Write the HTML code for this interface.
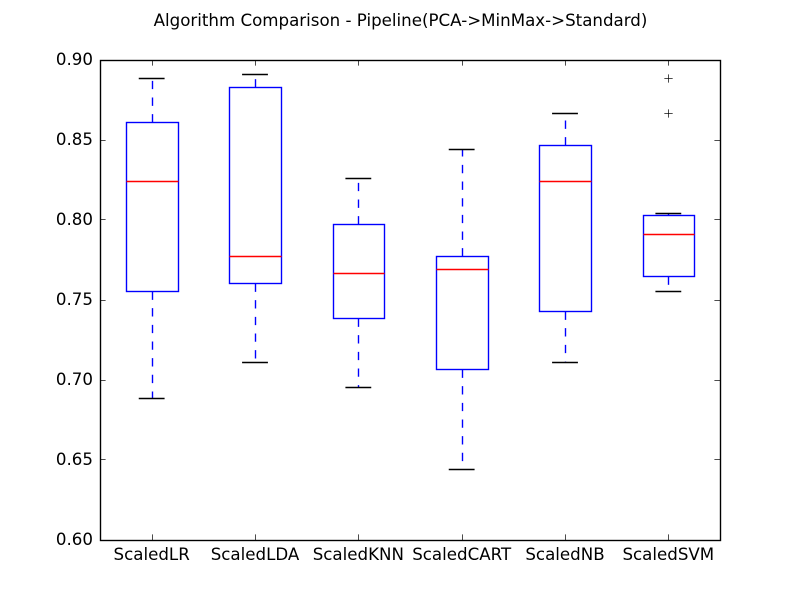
<!DOCTYPE html>
<html>
<head>
<meta charset="utf-8">
<title>Algorithm Comparison</title>
<style>
html,body{margin:0;padding:0;background:#fff}
svg{display:block}
text{font-family:"DejaVu Sans","Liberation Sans",sans-serif;fill:#000}
</style>
</head>
<body>
<svg id="chart" width="800" height="600" viewBox="0 0 800 600" xmlns="http://www.w3.org/2000/svg">
<rect width="800" height="600" fill="#fff"/>
<text x="400.5" y="26" font-size="16.67" text-anchor="middle">Algorithm Comparison - Pipeline(PCA-&gt;MinMax-&gt;Standard)</text>
</svg>
<script>
const categories = ['ScaledLR', 'ScaledLDA', 'ScaledKNN', 'ScaledCART', 'ScaledNB', 'ScaledSVM'];
const whiskerLow = [0.6883, 0.7110, 0.6953, 0.6442, 0.7110, 0.7555];
const q1Values = [0.7554, 0.7604, 0.7385, 0.7065, 0.7429, 0.7648];
const medians = [0.8240, 0.7773, 0.7667, 0.7692, 0.8240, 0.7909];
const q3Values = [0.8610, 0.8831, 0.7974, 0.7773, 0.8468, 0.8026];
const whiskerHigh = [0.8883, 0.8908, 0.8260, 0.8442, 0.8668, 0.8039];
const fliers = [[], [], [], [], [], [0.8883, 0.8668]];
const yTicks = [0.60, 0.65, 0.70, 0.75, 0.80, 0.85, 0.90];

const svg = document.getElementById('chart');
const NS = 'http://www.w3.org/2000/svg';
const L = 100, R = 720, T = 60, B = 540;
const Y_MIN = 0.6, Y_MAX = 0.9;
const LW = 1.39, THIN = 0.7, TICK = 5.6;

function xScale(p) { return L + (R - L) * (p + 0.5) / categories.length; }
function yScale(v) { return B - (v - Y_MIN) / (Y_MAX - Y_MIN) * (B - T); }
function snapX(v) { return Math.round(v) + 0.5; }
function snap(v) { return Math.round(v - 0.5) + 0.5; }

function line(x1, y1, x2, y2, stroke, width, dash) {
  const el = document.createElementNS(NS, 'line');
  el.setAttribute('x1', x1);
  el.setAttribute('y1', y1);
  el.setAttribute('x2', x2);
  el.setAttribute('y2', y2);
  el.setAttribute('stroke', stroke);
  el.setAttribute('stroke-width', width);
  if (dash) el.setAttribute('stroke-dasharray', dash);
  svg.appendChild(el);
  return el;
}
function label(x, y, str, anchor) {
  const el = document.createElementNS(NS, 'text');
  el.setAttribute('x', x);
  el.setAttribute('y', y);
  el.setAttribute('font-size', '16.67');
  el.setAttribute('text-anchor', anchor);
  el.textContent = str;
  svg.appendChild(el);
  return el;
}

categories.forEach(function (name, i) {
  const cx = snapX(xScale(i));
  const hw = (R - L) / categories.length * 0.25;
  const left = snapX(xScale(i) - hw);
  const right = snapX(xScale(i) + hw);
  const capL = xScale(i) - hw / 2;
  const capR = xScale(i) + hw / 2;
  const yQ1 = snap(yScale(q1Values[i]));
  const yQ3 = snap(yScale(q3Values[i]));
  const yMed = snap(yScale(medians[i]));
  const yLow = snap(yScale(whiskerLow[i]));
  const yHigh = snap(yScale(whiskerHigh[i]));

  const lowW = line(cx, yQ1, cx, yLow, '#0000ff', LW, '8.33 8.33');
  
  
  const highW = line(cx, yQ3, cx, yHigh, '#0000ff', LW, '8.33 8.33');
  
  
  const lowC = line(capL, yLow, capR, yLow, '#000', LW);
  
  
  const highC = line(capL, yHigh, capR, yHigh, '#000', LW);
  
  

  const box = document.createElementNS(NS, 'rect');
  box.setAttribute('x', left);
  box.setAttribute('y', yQ3);
  box.setAttribute('width', right - left);
  box.setAttribute('height', yQ1 - yQ3);
  box.setAttribute('fill', 'none');
  box.setAttribute('stroke', '#0000ff');
  box.setAttribute('stroke-width', LW);
  
  
  svg.appendChild(box);

  const med = line(left, yMed, right, yMed, '#ff0000', LW);
  
  

  fliers[i].forEach(function (v) {
    const fy = snap(yScale(v));
    const h = line(cx - 4.17, fy, cx + 4.17, fy, '#000', THIN);
    
    
    const w = line(cx, fy - 4.17, cx, fy + 4.17, '#000', THIN);
    
    
  });

  const t1 = line(cx, B, cx, B - TICK, '#000', THIN);
  
  
  const t2 = line(cx, T, cx, T + TICK, '#000', THIN);
  
  
  const xl = label(xScale(i), 560, name, 'middle');
  
  
});

yTicks.forEach(function (v) {
  const y = snap(yScale(v));
  const t1 = line(L, y, L + TICK, y, '#000', THIN);
  
  
  const t2 = line(R, y, R - TICK, y, '#000', THIN);
  
  
  const yl = label(93, yScale(v) + 5, v.toFixed(2), 'end');
  
  
});

const frame = document.createElementNS(NS, 'rect');
frame.setAttribute('x', L + 0.5);
frame.setAttribute('y', T + 0.5);
frame.setAttribute('width', R - L);
frame.setAttribute('height', B - T);
frame.setAttribute('fill', 'none');
frame.setAttribute('stroke', '#000');
frame.setAttribute('stroke-width', LW);


svg.appendChild(frame);
</script>
</body>
</html>
